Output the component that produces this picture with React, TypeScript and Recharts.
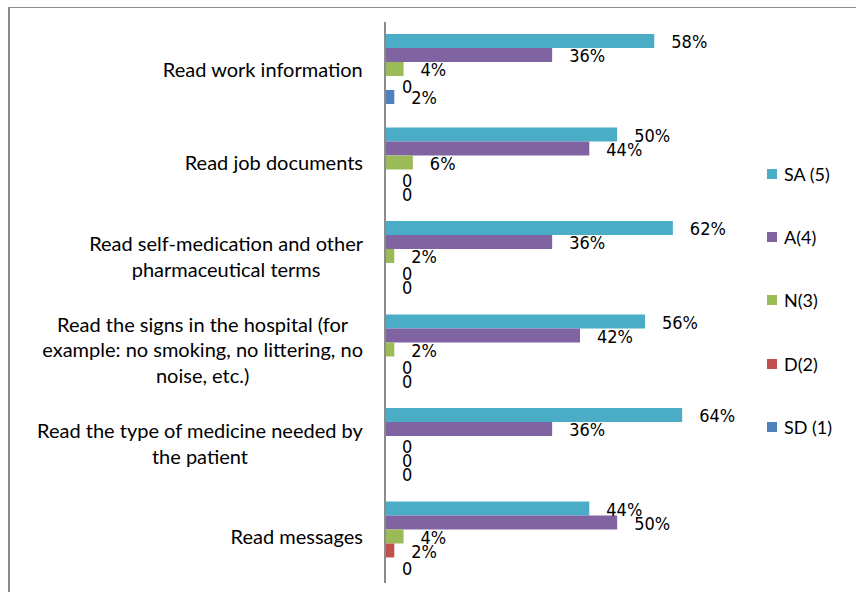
import { BarChart, Bar, XAxis, YAxis, LabelList, Legend } from "recharts";

// categories (y axis, top to bottom)
const categories = [
  "Read work information",
  "Read job documents",
  "Read self-medication and other pharmaceutical terms",
  "Read the signs in the hospital (for example: no smoking, no littering, no noise, etc.)",
  "Read the type of medicine needed by the patient",
  "Read messages",
];

// how Excel wrapped the category labels
const tickLines: string[][] = [
  ["Read work information"],
  ["Read job documents"],
  ["Read self-medication and other", "pharmaceutical terms"],
  ["Read the signs in the hospital (for", "example: no smoking, no littering, no", "noise, etc.)"],
  ["Read the type of medicine needed by", "the patient"],
  ["Read messages"],
];

// percentages per answer
const sa = [58, 50, 62, 56, 64, 44];
const agree = [36, 44, 36, 42, 36, 50];
const neutral = [4, 6, 2, 2, 0, 4];
const disagree = [0, 0, 0, 0, 0, 2];
const sd = [2, 0, 0, 0, 0, 0];

const seriesNames = ["SA (5)", "A(4)", "N(3)", "D(2)", "SD (1)"];
const seriesColors = ["#4BACC6", "#8064A2", "#9BBB59", "#C0504D", "#4F81BD"];
const seriesValues = [sa, agree, neutral, disagree, sd];
const seriesKeys = ["sa", "a", "n", "d", "sd"];

const data = categories.map((name, i) => {
  const row: Record<string, string | number> = { name };
  seriesKeys.forEach((k, s) => (row[k] = seriesValues[s][i]));
  return row;
});

const LABEL_FONT = "Lato";
const LABEL_SIZE = 20;
const LINE_H = 25.5;
const VALUE_FONT = "DejaVu Sans Condensed, DejaVu Sans";

let ctx: CanvasRenderingContext2D | null = null;
function measure(text: string) {
  if (!ctx) {
    ctx = document.createElement("canvas").getContext("2d");
  }
  if (!ctx) return text.length * 8;
  ctx.font = `${LABEL_SIZE}px ${LABEL_FONT}`;
  return ctx.measureText(text).width;
}

function CategoryTick(props: any) {
  const { x, y, payload } = props;
  const idx = categories.indexOf(payload.value);
  const lines = tickLines[idx] || [payload.value];
  const maxW = Math.max(...lines.map(measure));
  const cx = x - maxW / 2;
  return (
    <g>
      {lines.map((line, i) => (
        <text
          key={i}
          x={cx}
          y={y + (i - (lines.length - 1) / 2) * LINE_H}
          textAnchor="middle"
          dominantBaseline="central"
          fontFamily={LABEL_FONT}
          fontSize={LABEL_SIZE}
          fill="#000"
        >
          {line}
        </text>
      ))}
    </g>
  );
}

function LegendBox() {
  return (
    <div style={{ fontFamily: LABEL_FONT, fontSize: 18, color: "#000" }}>
      {seriesNames.map((name, i) => (
        <div
          key={name}
          style={{ display: "flex", alignItems: "center", height: 63.3 }}
        >
          <span
            style={{
              display: "inline-block",
              width: 10,
              height: 10,
              background: seriesColors[i],
              marginRight: 7,
            }}
          />
          <span>{name}</span>
        </div>
      ))}
    </div>
  );
}

// data label drawn for every bar, zero-length ones included
function ValueLabel(props: any) {
  const { x, y, height, value } = props;
  const v = Number(value);
  const barEnd = Number(x) + Number(props.width || 0);
  return (
    <text
      x={(v === 0 ? Number(x) : barEnd) + 17}
      y={Number(y) + Number(height) / 2 + (v === 0 ? 4 : 1)}
      dominantBaseline="central"
      fontFamily={VALUE_FONT}
      fontSize={18}
      fill="#000"
    >
      {v === 0 ? "0" : `${v}%`}
    </text>
  );
}

export default function App() {
  return (
    <div
      style={{
        position: "absolute",
        left: 0,
        top: 0,
        width: 856,
        height: 592,
        overflow: "hidden",
        background: "#fff",
      }}
    >
      <div
        style={{
          position: "absolute",
          left: 8,
          top: 7,
          width: 900,
          height: 700,
          borderLeft: "2px solid #8c8c8c",
          borderTop: "1px solid #8c8c8c",
        }}
      />
      <BarChart
        width={856}
        height={592}
        data={data}
        layout="vertical"
        margin={{ top: 22, right: 146, bottom: 9, left: 0 }}
        barCategoryGap="12.8%"
        barGap={0}
      >
        <XAxis type="number" domain={[0, 70]} hide />
        <YAxis
          type="category"
          dataKey="name"
          width={385}
          tickLine={false}
          tickSize={0}
          tickMargin={22}
          axisLine={{ stroke: "#8c8c8c", strokeWidth: 2 }}
          tick={<CategoryTick />}
          interval={0}
        />
        <Legend
          layout="horizontal"
          verticalAlign="middle"
          align="center"
          content={() => <LegendBox />}
          wrapperStyle={{ left: 767, top: 142, width: 90, height: 320 }}
        />
        {seriesKeys.map((k, s) => (
          <Bar
            key={k}
            dataKey={k}
            name={seriesNames[s]}
            fill={seriesColors[s]}
            minPointSize={0.01}
            isAnimationActive={false}
          >
            <LabelList dataKey={k} content={<ValueLabel />} />
          </Bar>
        ))}
      </BarChart>
    </div>
  );
}
